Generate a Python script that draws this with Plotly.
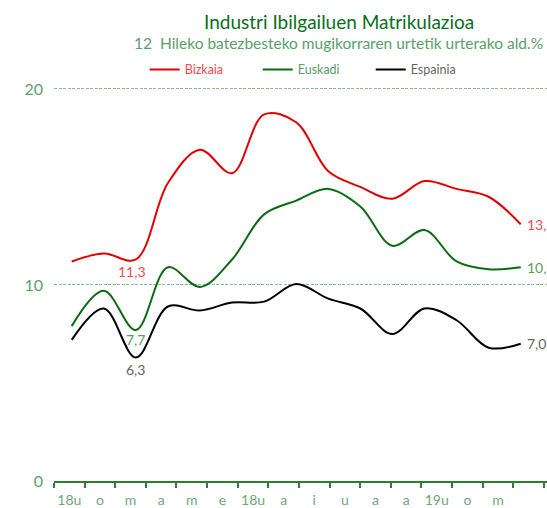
import plotly.graph_objects as go

months = ['18u', 'o', 'm', 'a', 'm', 'e', '18u', 'a', 'i', 'u', 'a', 'a', '19u', 'o', 'm']
bizkaia = [11.2, 11.6, 11.3, 15.2, 16.9, 15.7, 18.7, 18.3, 15.8, 15.0, 14.4, 15.3, 14.9, 14.5, 13.1]
euskadi = [7.9, 9.7, 7.7, 10.9, 9.9, 11.3, 13.6, 14.3, 14.9, 14.0, 12.0, 12.8, 11.2, 10.8, 10.9]
espainia = [7.2, 8.8, 6.3, 8.9, 8.7, 9.1, 9.15, 10.05, 9.3, 8.8, 7.5, 8.8, 8.2, 6.8, 7.0]

series = [
    ('Bizkaia', bizkaia, '#e00000', '#ef4b52'),
    ('Euskadi', euskadi, '#0b6b12', '#58a068'),
    ('Espainia', espainia, '#000000', '#666666'),
]

FONT = 'Lato, "Open Sans", sans-serif'
idx = list(range(len(months)))
low_idx = 2  # the early dip that gets a value label
low_shift = {'Bizkaia': (-4, -2), 'Euskadi': (0, 1), 'Espainia': (0, -1)}

fig = go.Figure()

# category axis carrying the month labels (x); the lines sit on x2
fig.add_trace(go.Scatter(x=idx, y=[None] * len(idx), mode='lines', showlegend=False,
                         hoverinfo='skip', xaxis='x', yaxis='y'))

for name, vals, line_col, txt_col in series:
    fig.add_trace(go.Scatter(
        x=idx, y=vals, mode='lines', xaxis='x2', yaxis='y',
        name=f'<span style="color:{txt_col}">{name}</span>',
        line=dict(color=line_col, width=2, shape='spline', smoothing=1.0),
        hoverinfo='skip',
    ))

# dip labels and last-value labels
for name, vals, line_col, txt_col in series:
    dx, dy = low_shift[name]
    fig.add_annotation(x=low_idx, y=vals[low_idx], xref='x2', yref='y',
                       text=f'{vals[low_idx]:.1f}'.replace('.', ','),
                       showarrow=False, yanchor='top', xshift=dx, yshift=dy,
                       font=dict(family=FONT, size=14, color=txt_col))
    fig.add_annotation(x=idx[-1], y=vals[-1], xref='x2', yref='y',
                       text=f'{vals[-1]:.1f}'.replace('.', ','),
                       showarrow=False, xanchor='left', xshift=4,
                       font=dict(family=FONT, size=14, color=txt_col))

fig.add_annotation(xref='paper', yref='paper', x=0.578, y=1.1616, yanchor='middle',
                   text='Industri Ibilgailuen Matrikulazioa', showarrow=False,
                   font=dict(family=FONT, size=19, color='#0a6e1c'))
fig.add_annotation(xref='paper', yref='paper', x=0.578, y=1.106, yanchor='middle',
                   text='12  Hileko batezbesteko mugikorraren urtetik urterako ald.%', showarrow=False,
                   font=dict(family=FONT, size=15.5, color='#5aa06a'))

fig.update_layout(
    width=547, height=508,
    margin=dict(l=54, r=0, t=85, b=27, autoexpand=False),
    paper_bgcolor='white', plot_bgcolor='white',
    font=dict(family=FONT),
    showlegend=True,
    legend=dict(orientation='h', x=0.184, y=1.0379, xanchor='left', yanchor='middle',
                entrywidth=68, entrywidthmode='pixels', font=dict(size=12.5),
                bgcolor='rgba(0,0,0,0)'),
    xaxis=dict(range=[-0.5, 15.6], tickmode='array', tickvals=idx, ticktext=months, ticks='',
               showline=True, linecolor='#2e7d32', linewidth=2, showgrid=False, zeroline=False,
               tickfont=dict(size=14, color='#6aa97a'), ticklabelstandoff=5,
               minor=dict(tickmode='array', tickvals=[i - 0.5 for i in range(len(months) + 2)],
                          ticks='outside', ticklen=5, tickwidth=1.5, tickcolor='#2e7d32',
                          showgrid=False)),
    xaxis2=dict(overlaying='x', anchor='y', range=[-0.552, 14.82], visible=False),
    yaxis=dict(range=[0, 20.2], tickvals=[0, 10, 20], showgrid=True, gridcolor='#86c090',
               griddash='3px,1.5px', gridwidth=1, zeroline=False, showline=False,
               tickfont=dict(size=16, color='#5aa06a'), ticklabelstandoff=10),
)

# drop the page's default body margin so the figure fills the window exactly
fig.write_html("out.html", config={'displayModeBar': False},
               post_script="document.body.style.margin = '0';")
